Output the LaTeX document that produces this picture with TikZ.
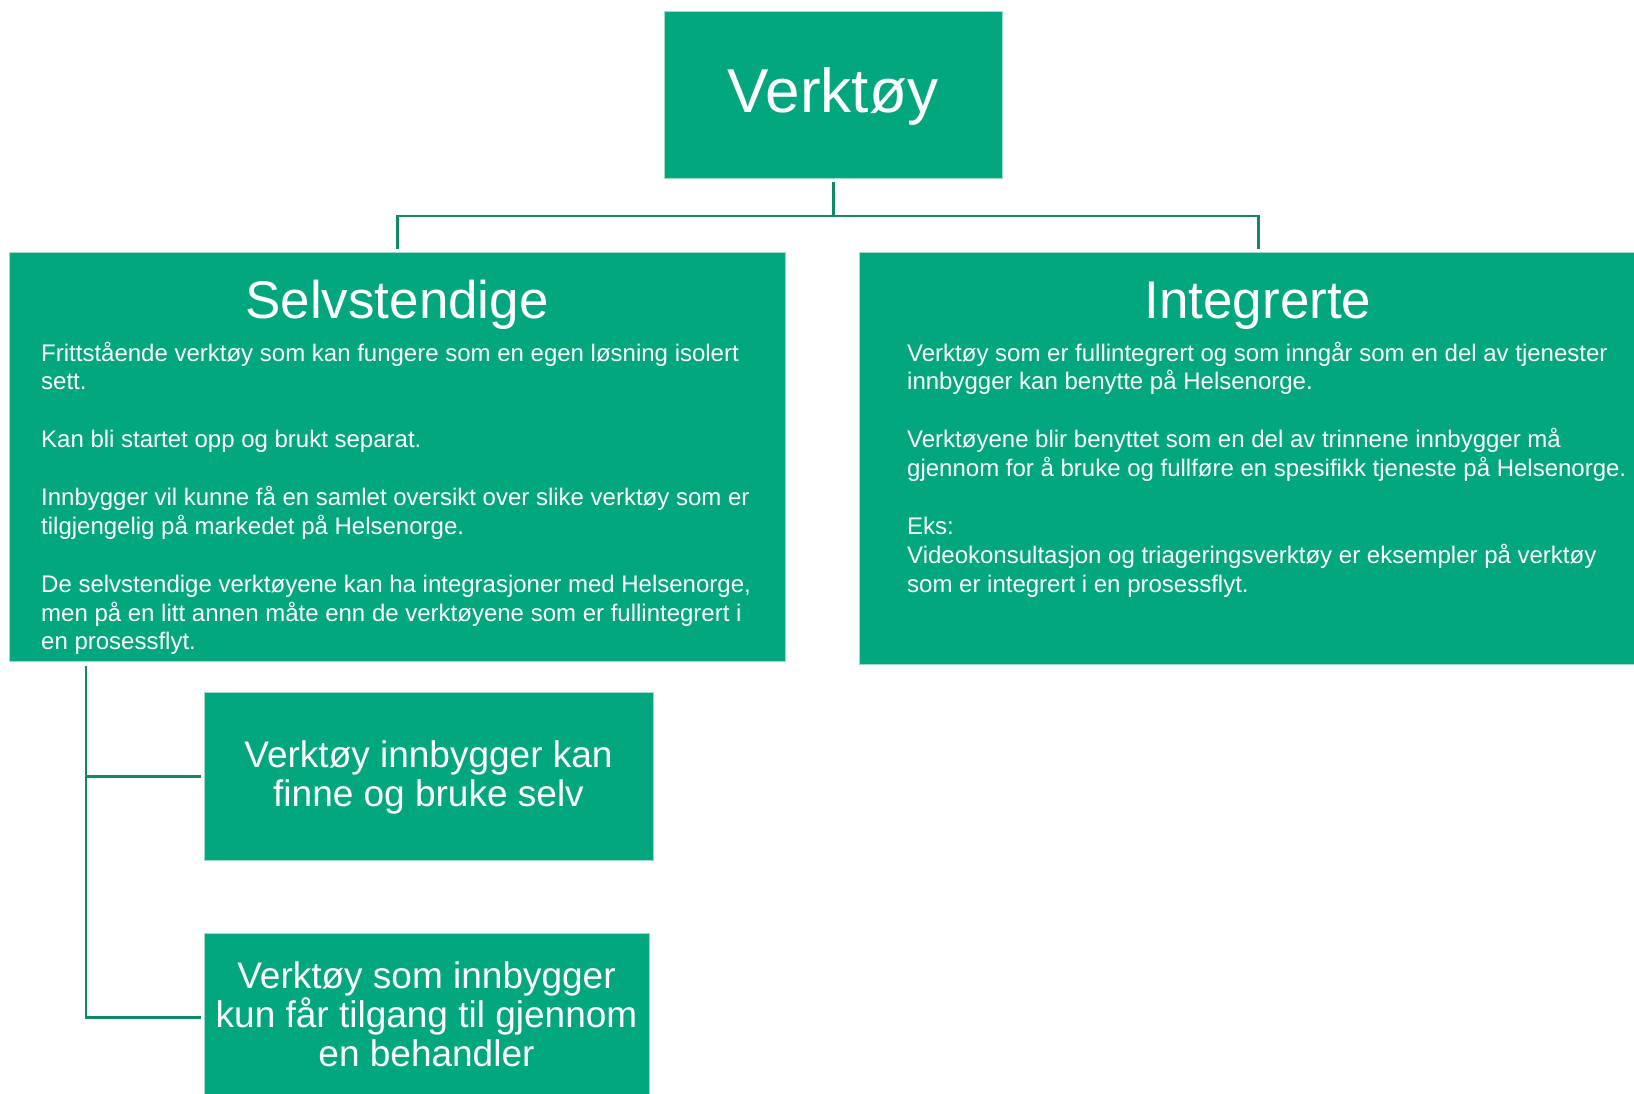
\documentclass[tikz,border=0pt]{standalone}
\usepackage{fontspec}
\setmainfont{Liberation Sans}
\definecolor{boxgreen}{HTML}{03A77E}
\definecolor{linegreen}{HTML}{10896A}
\definecolor{edgemint}{HTML}{9FDCC8}
\begin{document}
\begin{tikzpicture}[x=1pt,y=-1pt,
  box/.style={draw=edgemint, line width=1pt, fill=boxgreen, inner sep=0pt, anchor=north west},
  conn/.style={draw=linegreen, line width=2.7pt},
  bodytxt/.style={text=white, inner sep=0pt, anchor=base west, font=\fontsize{24}{28.9}\selectfont},
  titletxt/.style={text=white, inner sep=0pt, anchor=base, font=\fontsize{53}{60}\selectfont},
  subtxt/.style={text=white, inner sep=0pt, anchor=base, font=\fontsize{37}{39}\selectfont},
]
\clip (0,0) rectangle (1634,1094);
\fill[white] (0,0) rectangle (1634,1094);

% boxes
\node[box, minimum width=338pt, minimum height=167pt] (top) at (664,11) {};
\node[box, minimum width=776pt, minimum height=409pt] (sel) at (9,252) {};
\node[box, minimum width=798pt, minimum height=412pt] (int) at (859,252) {};
\node[box, minimum width=449pt, minimum height=168pt] (ba) at (204,692) {};
\node[box, minimum width=445pt, minimum height=168pt] (bb) at (204,933) {};

% texts
\node[text=white, inner sep=0pt, anchor=base, font=\fontsize{62}{70}\selectfont] (ttop) at (833,113) {Verktøy};
\node[titletxt] (tsel) at (397,318) {Selvstendige};
\node[titletxt] (tint) at (1258,318) {Integrerte};

\node[bodytxt] (bsel) at (41,361) {\parbox[t]{740pt}{\raggedright
Frittstående verktøy som kan fungere som en egen løsning isolert\\
sett.\\[28.9pt]
Kan bli startet opp og brukt separat.\\[28.9pt]
Innbygger vil kunne få en samlet oversikt over slike verktøy som er\\
tilgjengelig på markedet på Helsenorge.\\[28.9pt]
De selvstendige verktøyene kan ha integrasjoner med Helsenorge,\\
men på en litt annen måte enn de verktøyene som er fullintegrert i\\
en prosessflyt.}};

\node[bodytxt] (bint) at (907,361) {\parbox[t]{740pt}{\raggedright
Verktøy som er fullintegrert og som inngår som en del av tjenester\\
innbygger kan benytte på Helsenorge.\\[28.9pt]
Verktøyene blir benyttet som en del av trinnene innbygger må\\
gjennom for å bruke og fullføre en spesifikk tjeneste på Helsenorge.\\[28.9pt]
Eks:\\
Videokonsultasjon og triageringsverktøy er eksempler på verktøy\\
som er integrert i en prosessflyt.}};

\node[subtxt] (tba) at (428.5,767) {\parbox[t]{449pt}{\centering Verktøy innbygger kan\\finne og bruke selv}};
\node[subtxt] (tbb) at (426.5,988) {\parbox[t]{445pt}{\centering Verktøy som innbygger\\kun får tilgang til gjennom\\en behandler}};

% connectors
\coordinate (hub) at ([yshift=-37pt]top.south);
\draw[conn] ([yshift=-3pt]top.south) -- (hub);
\draw[conn] (hub) -| ([yshift=3pt]sel.north);
\draw[conn] (hub) -| ([yshift=3pt]int.north);
\coordinate (trunk) at ([xshift=77pt,yshift=-4pt]sel.south west);
\draw[conn] (trunk) |- ([xshift=-3pt]ba.west);
\draw[conn] (trunk) |- ([xshift=-3pt]bb.west);
\end{tikzpicture}
\end{document}
